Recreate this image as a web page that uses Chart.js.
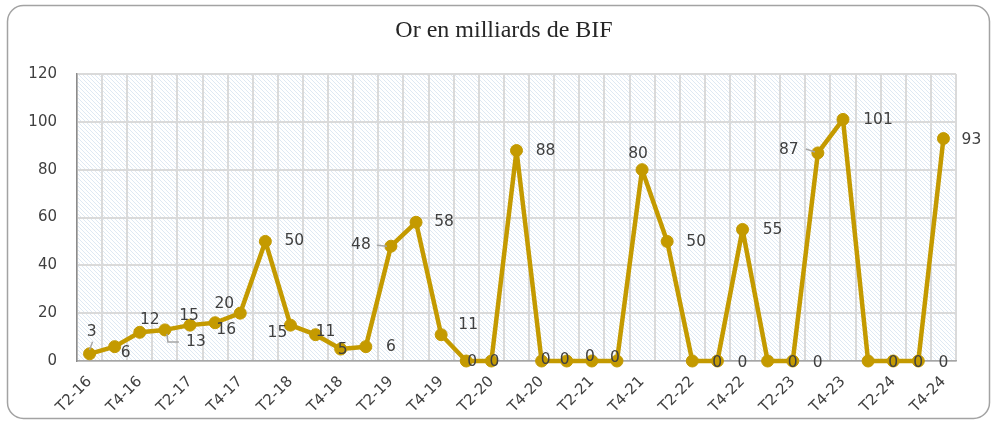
<!DOCTYPE html>
<html>
<head>
<meta charset="utf-8">
<title>Or en milliards de BIF</title>
<script src="https://cdn.jsdelivr.net/npm/chart.js@4.4.1/dist/chart.umd.min.js"></script>
<style>
  html, body { margin: 0; padding: 0; background: #fff; }
  #wrap { position: relative; width: 992px; height: 421px; }
</style>
</head>
<body>
<div id="wrap"><canvas id="goldChart" width="992" height="421"></canvas></div>
<script>
// quarters T2-16 .. T4-24
const quarters = [
  'T2-16', 'T3-16', 'T4-16',
  'T1-17', 'T2-17', 'T3-17', 'T4-17',
  'T1-18', 'T2-18', 'T3-18', 'T4-18',
  'T1-19', 'T2-19', 'T3-19', 'T4-19',
  'T1-20', 'T2-20', 'T3-20', 'T4-20',
  'T1-21', 'T2-21', 'T3-21', 'T4-21',
  'T1-22', 'T2-22', 'T3-22', 'T4-22',
  'T1-23', 'T2-23', 'T3-23', 'T4-23',
  'T1-24', 'T2-24', 'T3-24', 'T4-24'
];

const goldValues = [
  3, 6, 12,
  13, 15, 16, 20,
  50, 15, 11, 5,
  6, 48, 58, 11,
  0, 0, 88, 0,
  0, 0, 0, 80,
  50, 0, 0, 55,
  0, 0, 87, 101,
  0, 0, 0, 93
];

const yTicks = [0, 20, 40, 60, 80, 100, 120];

// where each value label sits, relative to its point (px)
const labelShift = [
  [2, -22], [11, 6], [10, -12],
  [31, 12], [-1, -9], [11, 7], [-16, -9],
  [29, 0], [-13, 8], [10, -3], [2, 1],
  [25, 0], [-30, -1], [28, 0], [27, -10],
  [6, 1], [3, 1], [29, 0], [4, -1],
  [-2, -1], [-2, -4], [-2, -3], [-4, -16],
  [29, 1], [25, 2], [25, 2], [30, 1],
  [25, 2], [25, 2], [-29, -3], [35, 1],
  [25, 2], [25, 2], [25, 2], [28, 1]
];

// leader lines (polyline relative to the point) for a few labels
const leaders = {
  0: [[0, -4], [3, -12]],
  3: [[2, 4], [3, 12], [14, 12]],
  12: [[-14, -1], [-4, 0]],
  29: [[-12, -4], [-3, -1]]
};

const GOLD = '#C49A00';
const TEXT = '#404040';

function makeHatch() {
  const c = document.createElement('canvas');
  c.width = 4; c.height = 4;
  const g = c.getContext('2d');
  g.fillStyle = '#ffffff';
  g.fillRect(0, 0, 4, 4);
  g.strokeStyle = '#dfe9f3';
  g.lineWidth = 1;
  g.beginPath();
  g.moveTo(-1, -1); g.lineTo(5, 5);
  g.moveTo(-1, 3); g.lineTo(1, 5);
  g.moveTo(3, -1); g.lineTo(5, 1);
  g.stroke();
  return c;
}

const framePlugin = {
  id: 'frame',
  beforeDraw(chart) {
    const ctx = chart.ctx;
    const a = chart.chartArea;
    ctx.save();
    ctx.fillStyle = '#fff';
    ctx.fillRect(0, 0, chart.width, chart.height);
    // rounded outer frame
    ctx.strokeStyle = '#a3a3a3';
    ctx.lineWidth = 1.5;
    ctx.beginPath();
    ctx.roundRect(7.5, 5.5, 982, 413, 16);
    ctx.stroke();
    // hatched plot area
    ctx.fillStyle = ctx.createPattern(makeHatch(), 'repeat');
    ctx.fillRect(a.left, a.top, a.right - a.left, a.bottom - a.top);
    ctx.restore();
  },
  afterDraw(chart) {
    const ctx = chart.ctx;
    ctx.save();
    ctx.fillStyle = '#262626';
    ctx.font = '24px "Liberation Serif", "Times New Roman", serif';
    ctx.textAlign = 'center';
    ctx.textBaseline = 'middle';
    ctx.fillText('Or en milliards de BIF', 504, 31);
    ctx.restore();
  }
};

const valueLabels = {
  id: 'valueLabels',
  afterDatasetsDraw(chart) {
    const ctx = chart.ctx;
    const pts = chart.getDatasetMeta(0).data;
    ctx.save();
    // leader lines
    ctx.strokeStyle = '#a6a6a6';
    ctx.lineWidth = 1.5;
    Object.keys(leaders).forEach(k => {
      const p = pts[k];
      const seg = leaders[k];
      ctx.beginPath();
      ctx.moveTo(p.x + seg[0][0], p.y + seg[0][1]);
      for (let j = 1; j < seg.length; j++) ctx.lineTo(p.x + seg[j][0], p.y + seg[j][1]);
      ctx.stroke();
    });
    ctx.fillStyle = TEXT;
    ctx.font = '15.5px "DejaVu Sans", Verdana, sans-serif';
    ctx.textAlign = 'center';
    ctx.textBaseline = 'middle';
    pts.forEach((p, i) => {
      const s = labelShift[i] || [0, -14];
      ctx.fillText(String(goldValues[i]), p.x + s[0], p.y + s[1]);
    });
    ctx.restore();
  }
};

new Chart(document.getElementById('goldChart'), {
  type: 'line',
  data: {
    labels: quarters,
    datasets: [{
      label: 'Or',
      data: goldValues,
      borderColor: GOLD,
      backgroundColor: GOLD,
      borderWidth: 4.5,
      borderJoinStyle: 'round',
      borderCapStyle: 'round',
      pointRadius: 6,
      pointBackgroundColor: GOLD,
      pointBorderColor: GOLD,
      pointBorderWidth: 1,
      tension: 0,
      clip: false
    }]
  },
  options: {
    responsive: false,
    animation: false,
    layout: { padding: { left: 29, right: 36, top: 74, bottom: 0 } },
    plugins: {
      legend: { display: false },
      title: { display: false },
      tooltip: { enabled: false }
    },
    scales: {
      x: {
        offset: true,
        grid: { offset: true, color: '#dadada', lineWidth: 2, drawTicks: false },
        border: { display: true, color: '#a6a6a6', width: 1.5 },
        afterFit(s) { s.height = 60; },
        ticks: {
          autoSkip: false,
          maxRotation: 45,
          minRotation: 45,
          padding: 12,
          color: TEXT,
          font: { family: '"DejaVu Sans", Verdana, sans-serif', size: 15 },
          callback(v, i) { return i % 2 === 0 ? quarters[i] : ''; }
        }
      },
      y: {
        min: 0,
        max: 120,
        afterBuildTicks(s) { s.ticks = yTicks.map(v => ({ value: v })); },
        afterFit(s) { s.width = 48; },
        grid: { color: '#dadada', lineWidth: 2, drawTicks: false },
        border: { display: true, color: '#8c8c8c', width: 1.5 },
        ticks: {
          padding: 20,
          color: TEXT,
          font: { family: '"DejaVu Sans", Verdana, sans-serif', size: 15 }
        }
      }
    }
  },
  plugins: [framePlugin, valueLabels]
});
</script>
</body>
</html>
